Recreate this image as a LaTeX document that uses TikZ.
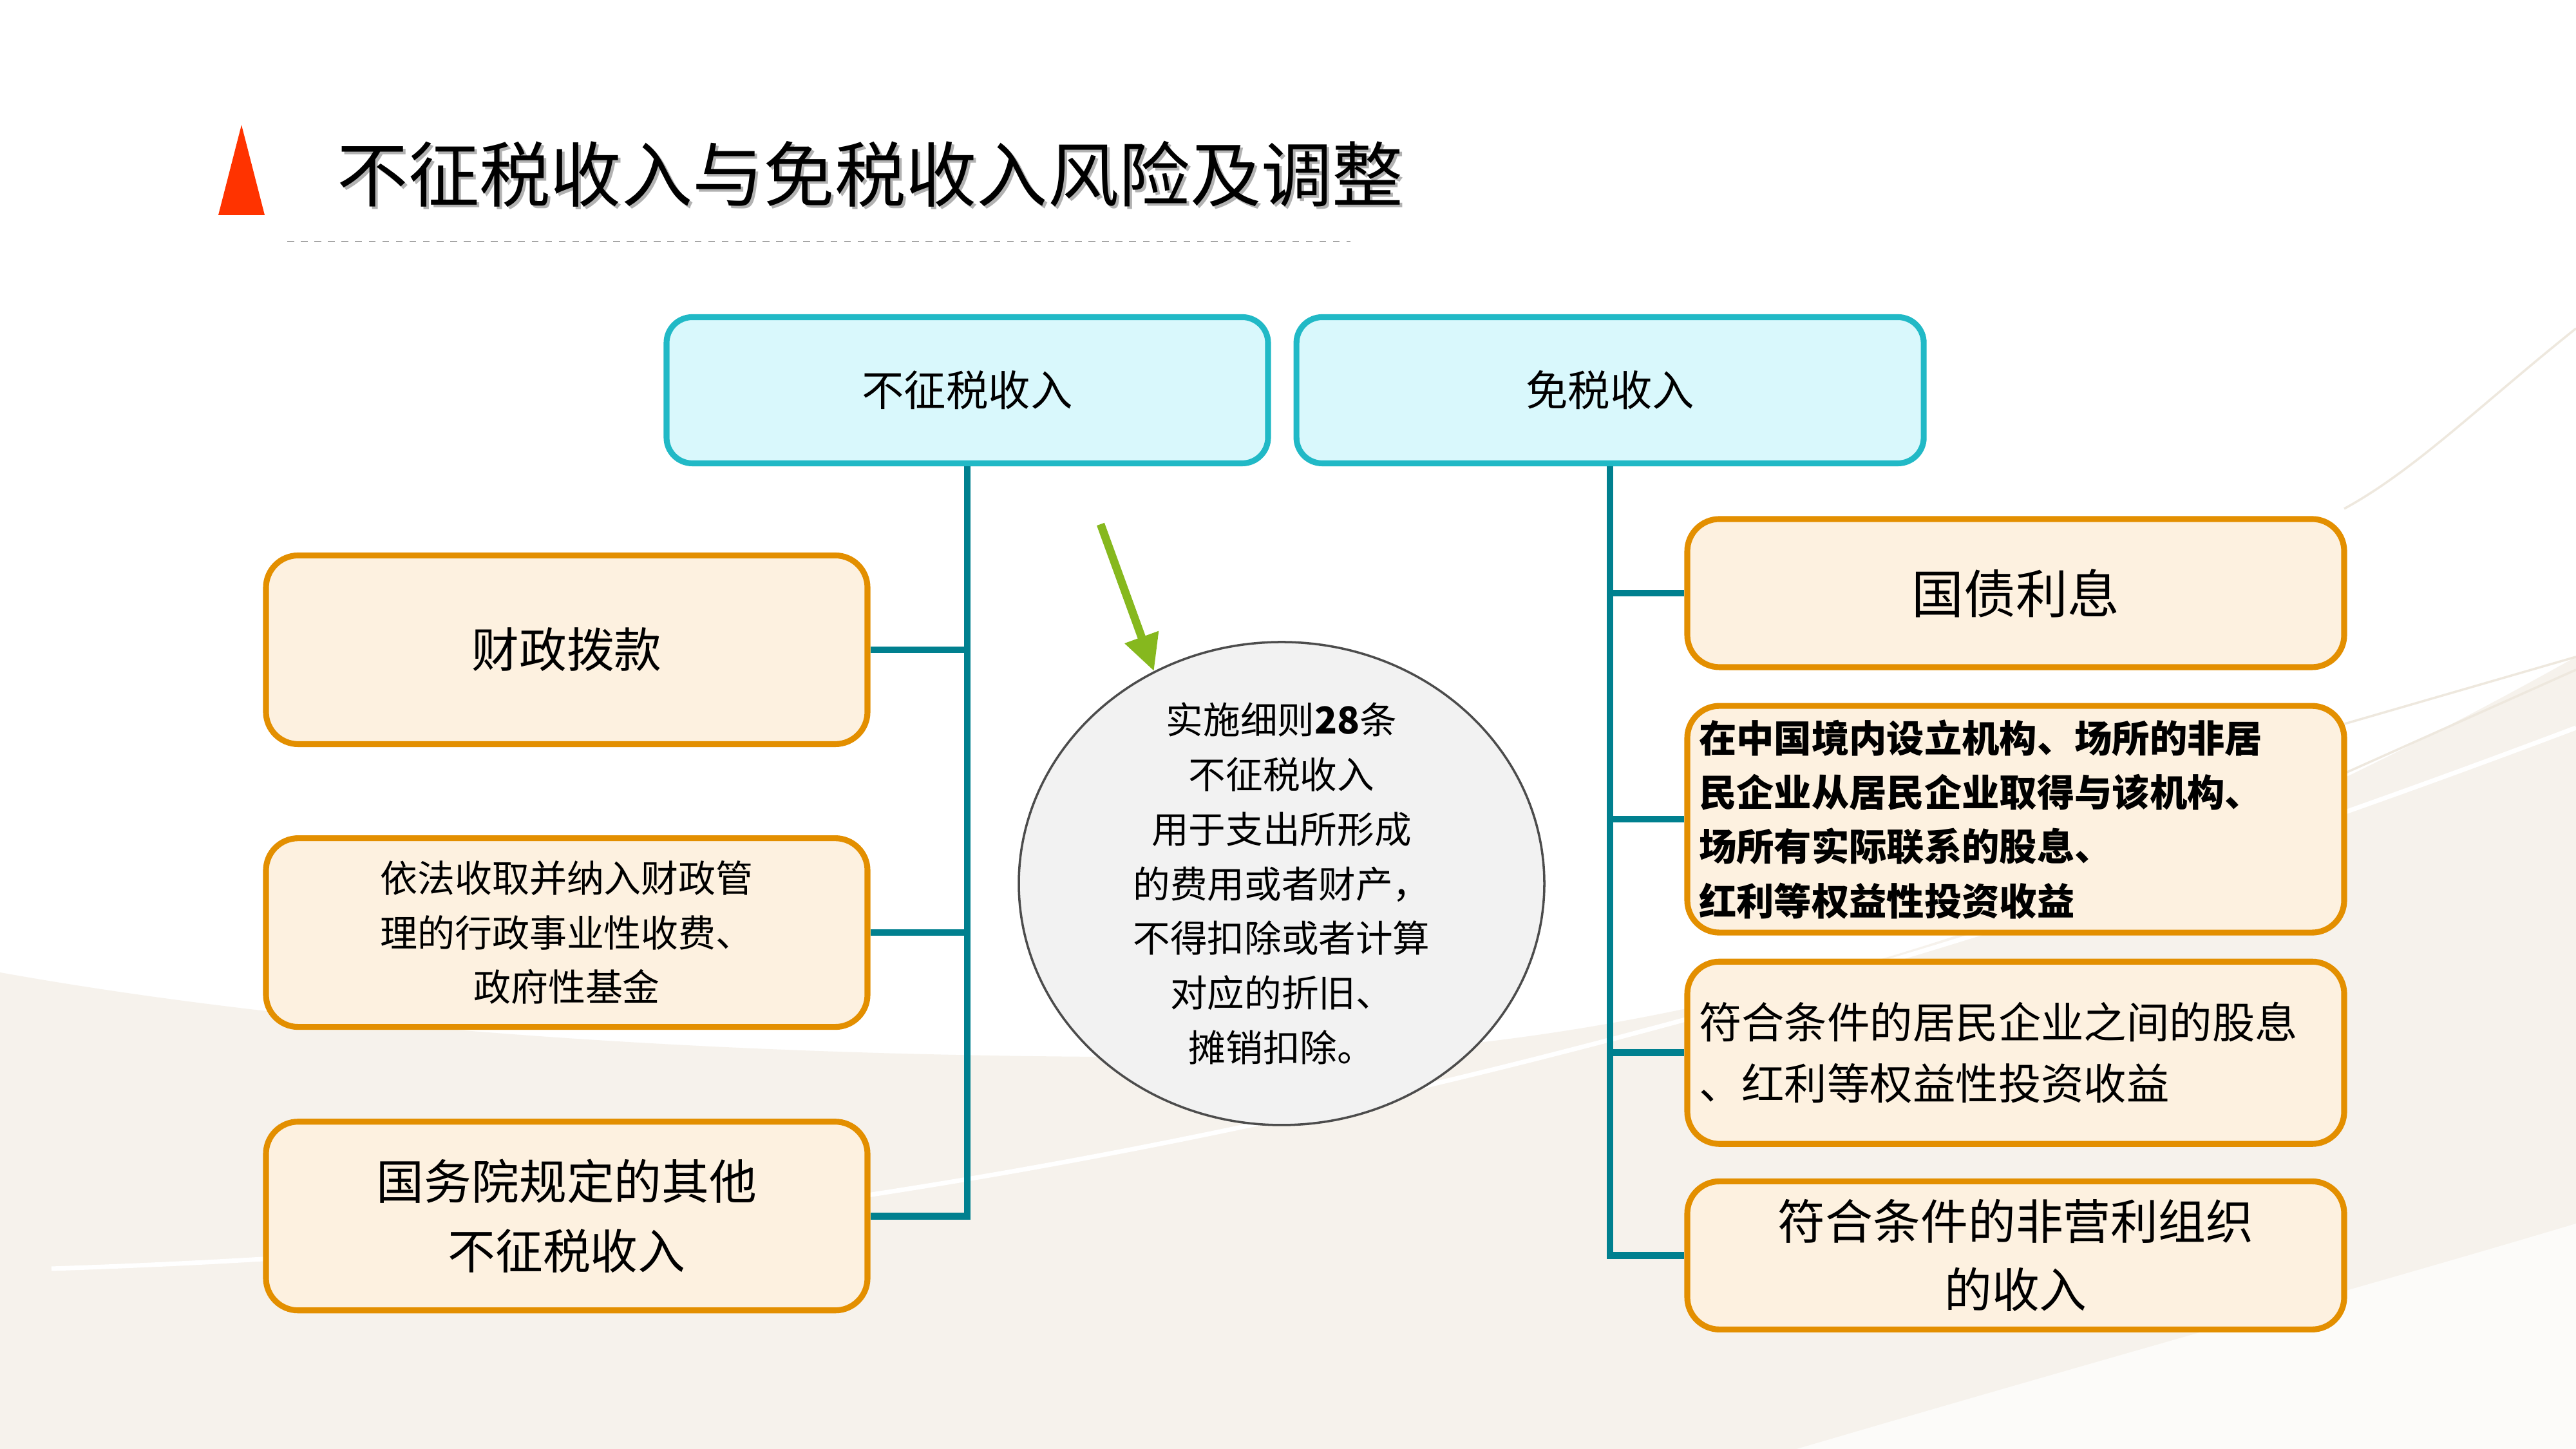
\documentclass[tikz,border=0pt]{standalone}
\usepackage{fontspec}
\setmainfont{Noto Sans CJK SC}
\usepackage{tikz}
\usetikzlibrary{positioning,arrows.meta,shapes.geometric}
\usepackage{xcolor}

\definecolor{titlered}{RGB}{255,51,0}
\definecolor{headline}{RGB}{33,185,198}
\definecolor{headfill}{RGB}{217,248,252}
\definecolor{leafline}{RGB}{227,143,0}
\definecolor{leaffill}{RGB}{253,241,224}
\definecolor{trunkteal}{RGB}{0,128,143}
\definecolor{arrowgreen}{RGB}{134,184,30}
\definecolor{bgbeige}{RGB}{246,242,236}
\definecolor{bgline}{RGB}{238,232,222}

\begin{document}
\begin{tikzpicture}[
    >=Latex,
    every node/.style={align=center, text=black},
    head/.style={draw=headline, fill=headfill, line width=2.6pt, rounded corners=0.4cm, minimum height=2.27cm, font=\fontsize{18.6}{22}\selectfont},
    leaf/.style={draw=leafline, fill=leaffill, line width=2.6pt, rounded corners=0.5cm, minimum width=9.34cm, minimum height=2.93cm},
    rleaf/.style={leaf, minimum width=10.2cm},
    note/.style={draw=black!70, fill=black!5, line width=1pt, ellipse, inner sep=0pt, minimum width=8.16cm, minimum height=7.5cm},
    trunk/.style={draw=trunkteal, line width=3pt}
]

% background
\fill[white] (0,0) rectangle (40,22.5);
\useasboundingbox (0,0) rectangle (40,22.5);
\fill[bgbeige] (0,7.4) .. controls (5,6.5) and (12,6.0) .. (20,6.1) .. controls (28,6.3) and (35,9.5) .. (40,12.3) -- (40,0) -- (0,0) -- cycle;
\fill[white, opacity=0.7] (27.9,0) .. controls (33,1.5) and (37,2.6) .. (40,3.5) -- (40,0) -- cycle;
\draw[white, line width=2pt] (0.8,2.8) .. controls (10,3.1) and (22,4.4) .. (40,11.2);
\draw[bgline, line width=1pt] (40,12.3) -- (36.2,11.2);
\draw[bgline, line width=1pt] (40,12.1) -- (36.2,10.4);
\draw[bgline, line width=1pt] (40,17.4) .. controls (38.5,16.2) and (37.5,15.2) .. (36.4,14.6);

% title
\fill[titlered] (3.75,20.56) -- (4.11,19.16) -- (3.39,19.16) -- cycle;
\node[anchor=west, inner sep=0pt, text=gray!60, font=\fontsize{31.4}{38}\selectfont] (tshadow) at (5.27,19.76) {不征税收入与免税收入风险及调整};
\node[anchor=west, inner sep=0pt, font=\fontsize{31.4}{38}\selectfont] (title) at (5.23,19.80) {不征税收入与免税收入风险及调整};
\coordinate (dl) at (4.46,18.75);
\coordinate (dr) at (20.97,18.75);
\draw[gray!70, dashed, line width=0.8pt] (dl) -- (dr);

% heads
\node[head, minimum width=9.34cm] (nz) at (15.02,16.44) {不征税收入};
\node[head, minimum width=9.74cm, right=0.35cm of nz] (ms) {免税收入};

% left column
\node[leaf, font=\fontsize{21}{26}\selectfont] (l1) at (8.80,12.41) {财政拨款};
\node[leaf, below=1.37cm of l1, font=\fontsize{16.5}{24}\selectfont] (l2) {依法收取并纳入财政管\\理的行政事业性收费、\\政府性基金};
\node[leaf, below=1.38cm of l2, font=\fontsize{21}{30.5}\selectfont] (l3) {国务院规定的其他\\不征税收入};

% right column
\node[rleaf, minimum height=2.3cm, font=\fontsize{23}{28}\selectfont] (r1) at (31.30,13.29) {国债利息};
\node[rleaf, minimum height=3.52cm, below=0.51cm of r1, inner xsep=0.18cm, text width=9.84cm, align=left, font=\fontsize{16.6}{24}\selectfont\bfseries] (r2) {在中国境内设立机构、场所的非居\\民企业从居民企业取得与该机构、\\场所有实际联系的股息、\\红利等权益性投资收益};
\node[rleaf, minimum height=2.83cm, below=0.36cm of r2, inner xsep=0.18cm, text width=9.84cm, align=left, font=\fontsize{18.9}{27}\selectfont] (r3) {符合条件的居民企业之间的股息\\、红利等权益性投资收益};
\node[rleaf, minimum height=2.3cm, below=0.49cm of r3, font=\fontsize{21}{30}\selectfont] (r4) {符合条件的非营利组织\\的收入};

% note
\node[note] (circ) at (19.90,8.78) {};
\node[font=\fontsize{16.4}{24.1}\selectfont] (circtext) at (circ.center) {实施细则\textbf{28}条\\不征税收入\\用于支出所形成\\的费用或者财产，\\不得扣除或者计算\\对应的折旧、\\摊销扣除。};
\coordinate (gtail) at (17.09,14.36);
\draw[-{Triangle[width=15pt,length=16pt]}, arrowgreen, line width=3.6pt] (gtail) -- (circ.121);

% connectors
\draw[trunk] (nz.south) |- (l3.east);
\draw[trunk] (l1.east) -- (l1.east -| nz.south);
\draw[trunk] (l2.east) -- (l2.east -| nz.south);
\draw[trunk] (ms.south) |- (r4.west);
\draw[trunk] (r1.west) -- (r1.west -| ms.south);
\draw[trunk] (r2.west) -- (r2.west -| ms.south);
\draw[trunk] (r3.west) -- (r3.west -| ms.south);

\end{tikzpicture}
\end{document}
